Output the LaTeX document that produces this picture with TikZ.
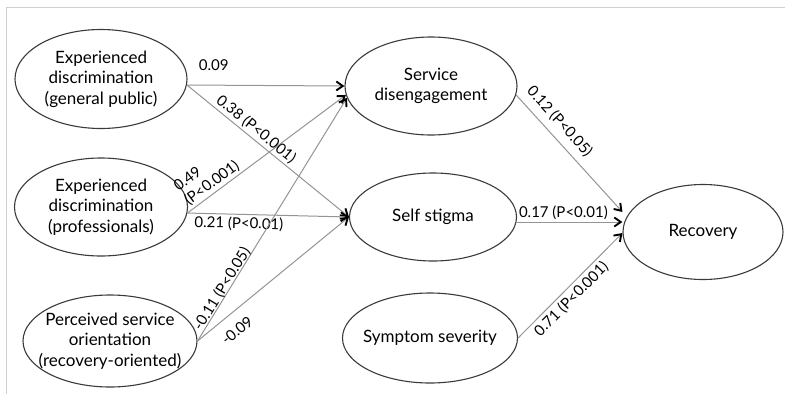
\documentclass[tikz,border=0pt]{standalone}
\usepackage{fontspec}
\setmainfont{Lato}
\usepackage{tikz}
\usetikzlibrary{
  arrows.meta,
  shapes.geometric
}
\definecolor{PathGrey}{HTML}{949494}
\definecolor{RimGrey}{HTML}{3A3A3A}
\definecolor{FrameGrey}{HTML}{CFCFCF}

\begin{document}
\begin{tikzpicture}[
  x=1pt,y=-1pt,
  latent/.style={ellipse,draw=RimGrey,line width=1.1pt,inner sep=0pt},
  caption/.style={align=center,inner sep=0pt,
    font=\fontsize{17}{20.5}\selectfont},
  effect/.style={draw=PathGrey,line width=1pt,
    -{Straight Barb[length=6.5pt,width=9pt,line width=1.9pt,color=black]}},
  coef/.style={sloped,inner sep=2pt,font=\fontsize{15}{17.5}\selectfont}
]
\useasboundingbox (0,0) rectangle (785,394);
\draw[FrameGrey,line width=0.8pt] (785,7) -- (6,7) -- (6,394);

% exogenous
\node[latent,minimum width=172pt,minimum height=99pt,
  label={[caption]center:Experienced\\discrimination\\(general public)}]
  (gpub) at (101,79) {};
\node[latent,minimum width=173pt,minimum height=98pt,
  label={[caption]center:Experienced\\discrimination\\(professionals)}]
  (prof) at (101,207) {};
\node[latent,minimum width=174pt,minimum height=92pt,
  label={[caption]center:Perceived service\\orientation\\(recovery-oriented)}]
  (orient) at (110,341) {};

% mediators
\node[latent,minimum width=172pt,minimum height=98pt,
  label={[caption]center:Service\\disengagement}]
  (diseng) at (431,86) {};
\node[latent,minimum width=167pt,minimum height=88pt,
  label={[caption]center:Self stigma}]
  (stigma) at (433,217) {};
\node[latent,minimum width=175pt,minimum height=90pt,
  label={[caption]center:Symptom severity}]
  (sympt) at (430,338) {};

% outcome
\node[latent,minimum width=160pt,minimum height=95pt,
  label={[caption]center:Recovery}]
  (recov) at (703,232) {};

\draw[effect] (gpub.-4) -- node[coef,above=12pt,pos=0.17] {0.09}
  (diseng.west);
\draw[effect] (gpub.-4) -- node[coef,above=0pt,pos=0.39] {0.38 (P<0.001)}
  (stigma.west);
\draw[effect] (prof.-4) -- node[coef,above=0pt,pos=0.19,align=left]
  {0.49\\(P<0.001)} (diseng.186);
\draw[effect] (prof.-4) -- node[coef,below=0pt,pos=0.32] {0.21 (P<0.01)}
  (stigma.west);
\draw[effect] (orient.east) -- node[coef,above=-3pt,pos=0.20]
  {-0.11 (P<0.05)} (diseng.188);
\draw[effect] (orient.east) -- node[coef,below=9pt,pos=0.19] {-0.09}
  (stigma.west);

\draw[effect] (diseng.-6) -- node[coef,above=5pt,pos=0.31] {0.12 (P<0.05)}
  ([yshift=20pt]recov.west);
\draw[effect] ([yshift=-5pt]stigma.east) -- node[coef,above=0pt,pos=0.44]
  {0.17 (P<0.01)} ([yshift=10pt]recov.west);
\draw[effect] (sympt.east) -- node[coef,below=1pt,pos=0.44]
  {0.71 (P<0.001)} ([yshift=-1pt]recov.west);
\end{tikzpicture}
\end{document}
